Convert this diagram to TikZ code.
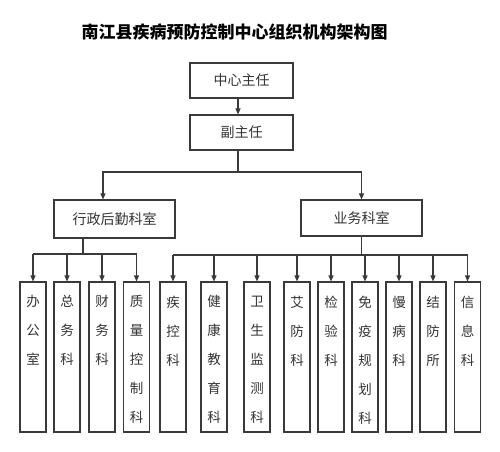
\documentclass[tikz,border=0pt]{standalone}
\usepackage{fontspec}
\setmainfont{Noto Sans CJK SC}
\usetikzlibrary{arrows.meta}
\definecolor{ln}{HTML}{3A3A3A}
\definecolor{tx}{HTML}{333333}
\tikzset{
  box/.style={draw=ln, line width=1.1pt, rectangle, inner sep=0pt, text=tx},
  topbox/.style={box, minimum width=103pt, minimum height=35pt, font=\fontsize{14}{16}\selectfont},
  midbox/.style={box, minimum width=121pt, font=\fontsize{14}{16}\selectfont},
  leaf/.style={box, minimum width=26pt, minimum height=150pt},
  vtext/.style={anchor=north, inner sep=0pt, align=center, text=tx, font=\fontsize{13.5}{29}\selectfont},
  conn/.style={draw=ln, line width=1.1pt},
  arr/.style={conn, -{Triangle[length=6pt,width=5pt]}}
}
\begin{document}
\begin{tikzpicture}[x=1pt,y=-1pt]
\useasboundingbox (0,0) rectangle (500,451);
\node[text=black, font=\fontsize{17}{19}\selectfont\bfseries] (title) at (234.5,32) {南江县疾病预防控制中心组织机构架构图};
\node[topbox] (zr) at (241.5,80.5) {中心主任};
\node[topbox] (fzr) at (241.5,132.5) {副主任};
\node[midbox, minimum height=38pt] (xz) at (114.5,219) {行政后勤科室};
\node[midbox, minimum height=36pt] (yw) at (361.5,218) {业务科室};
\draw[arr] ([xshift=-3.5pt]zr.south) -- ([xshift=-3.5pt]fzr.north);
\coordinate (j0) at (238,172);
\draw[conn] ([xshift=-3.5pt]fzr.south) -- (j0);
\draw[arr] (j0) -| ([xshift=-11.5pt]xz.north);
\draw[arr] (j0) -| (yw.north);
% leaves
\foreach \n/\x/\t in {
  a/33/办\\公\\室,
  b/67/总\\务\\科,
  c/102/财\\务\\科,
  d/136.5/质\\量\\控\\制\\科,
  e/173/疾\\控\\科,
  f/214/健\\康\\教\\育\\科,
  g/257/卫\\生\\监\\测\\科,
  h/297/艾\\防\\科,
  i/331/检\\验\\科,
  j/365/免\\疫\\规\\划\\科,
  k/399/慢\\病\\科,
  l/433/结\\防\\所,
  m/467.5/信\\息\\科}{
  \node[leaf] (\n) at (\x,357) {};
  \node[vtext] (\n t) at ([yshift=-14pt]\n.north) {\t};
}
% left branch
\coordinate (jl) at (83,254);
\draw[conn] ([xshift=-31.5pt]xz.south) -- (jl);
\draw[conn] (a.north |- jl) -- (d.north |- jl);
\foreach \n in {a,b,c,d}{ \draw[arr] (\n.north |- jl) -- (\n.north); }
% right branch
\coordinate (jr) at (361.5,255);
\draw[conn] (yw.south) -- (jr);
\draw[conn] (e.north |- jr) -- (m.north |- jr);
\foreach \n in {e,f,g,h,i,j,k,l,m}{ \draw[arr] (\n.north |- jr) -- (\n.north); }
\end{tikzpicture}
\end{document}
